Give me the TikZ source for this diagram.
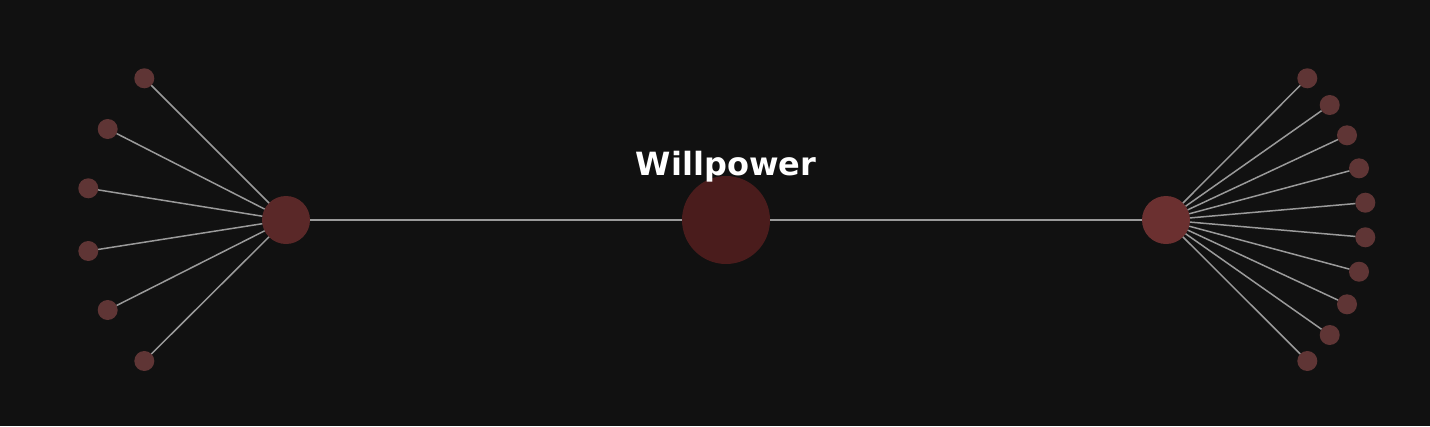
\documentclass[tikz,border=0pt]{standalone}
\usepackage{fontspec}
\newfontfamily\labelfont{DejaVu Sans}
\definecolor{bg}{HTML}{111111}
\definecolor{centerfill}{HTML}{4A1C1C}
\definecolor{lefthub}{HTML}{5A2828}
\definecolor{righthub}{HTML}{6B3030}
\definecolor{leaffill}{HTML}{5F3535}
\definecolor{edgecol}{HTML}{9A9A9A}
\begin{document}
\begin{tikzpicture}[x=1pt,y=-1pt,
  centernode/.style={circle,fill=centerfill,minimum size=88pt,inner sep=0pt,outer sep=0pt},
  hubL/.style={circle,fill=lefthub,minimum size=48pt,inner sep=0pt,outer sep=0pt},
  hubR/.style={circle,fill=righthub,minimum size=48pt,inner sep=0pt,outer sep=0pt},
  leaf/.style={circle,fill=leaffill,minimum size=20pt,inner sep=0pt,outer sep=0pt},
  edge/.style={draw=edgecol,line width=1.5pt},
  title/.style={text=white,font=\labelfont\bfseries\fontsize{32}{36}\selectfont}]
\fill[bg] (0,0) rectangle (1430,426);
\useasboundingbox (0,0) rectangle (1430,426);
\node[centernode] (c) at (726,220) {};
\node[hubL] (l) at (286,220) {};
\node[hubR] (r) at (1166,220) {};
\foreach \i/\x/\y in {1/144.3/78.3,2/107.7/129,3/88.3/188.3,4/88.3/251,5/107.7/310,6/144.3/361}
  \node[leaf] (l\i) at (\x,\y) {};
\foreach \i/\x/\y in {1/1307.3/78.3,2/1329.7/105,3/1347/135.3,4/1359/168.3,5/1365.3/202.7,6/1365.3/237.3,7/1359/271.7,8/1347/304.3,9/1329.7/335,10/1307.3/361}
  \node[leaf] (r\i) at (\x,\y) {};
\draw[edge] (l) -- (c);
\draw[edge] (c) -- (r);
\foreach \i in {1,...,6} \draw[edge] (l) -- (l\i);
\foreach \i in {1,...,10} \draw[edge] (r) -- (r\i);
\node[title] (t) at (726,167) {Willpower};
\end{tikzpicture}
\end{document}
